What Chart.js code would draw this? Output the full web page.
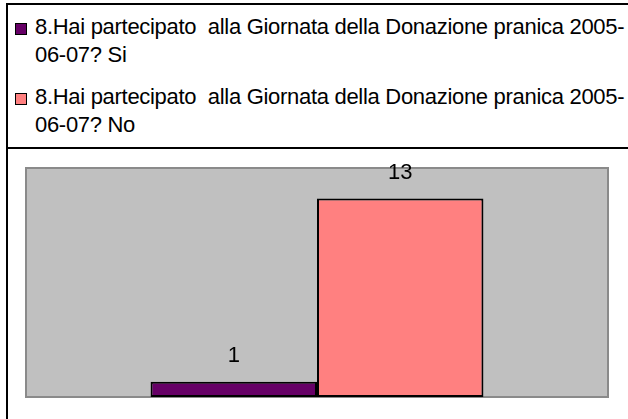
<!DOCTYPE html>
<html>
<head>
<meta charset="utf-8">
<script src="https://cdn.jsdelivr.net/npm/chart.js@4/dist/chart.umd.min.js"></script>
<style>
  html, body { margin: 0; padding: 0; background: #fff; overflow: hidden; }
  body { width: 628px; height: 419px; position: relative; font-family: "Liberation Sans", Arial, sans-serif; }
  .frame {
    position: absolute; left: 6px; top: 3px; width: 700px; height: 500px;
    border-left: 2px solid #000; border-top: 2px solid #000;
  }
  .legend { position: absolute; left: 0; top: 13px; width: 628px; }
  .legend-item { display: flex; align-items: flex-start; margin-bottom: 14px; }
  .legend-item .swatch {
    width: 10px; height: 10px; border: 1px solid #000;
    margin: 10px 8px 0 15px; flex-shrink: 0;
  }
  .legend-item .text {
    font-size: 22px; line-height: 28px; letter-spacing: -0.3px; color: #000;
    white-space: pre-wrap; width: 593px;
  }
  .divider { position: absolute; left: 6px; top: 147px; width: 700px; border-top: 2px solid #000; }
  .chart-box { position: absolute; left: 8px; top: 149px; width: 620px; height: 270px; }
</style>
</head>
<body>
<div class="frame"></div>
<div class="legend" id="legend"></div>
<div class="divider"></div>
<div class="chart-box"><canvas id="chart"></canvas></div>

<script>
// Answers to question 8 (one category, one bar per answer)
const categories = [''];
const seriesLabels = [
  '8.Hai partecipato  alla Giornata della Donazione pranica 2005-06-07? Si',
  '8.Hai partecipato  alla Giornata della Donazione pranica 2005-06-07? No',
];
const siValues = [1];
const noValues = [13];
const seriesColors = ['#660066', '#FF8080'];

// grey plot background with a thin darker frame
const plotBackground = {
  id: 'plotBackground',
  beforeDatasetsDraw(chart) {
    const { ctx, chartArea: a } = chart;
    ctx.save();
    ctx.fillStyle = '#C0C0C0';
    ctx.fillRect(a.left, a.top, a.right - a.left, a.bottom - a.top);
    ctx.strokeStyle = '#8A8A8A';
    ctx.lineWidth = 2;
    ctx.strokeRect(a.left, a.top, a.right - a.left, a.bottom - a.top);
    ctx.restore();
  },
};

// value written above each bar
const valueLabels = {
  id: 'valueLabels',
  afterDatasetsDraw(chart) {
    const { ctx } = chart;
    ctx.save();
    ctx.font = '22px "Liberation Sans", Arial, sans-serif';
    ctx.fillStyle = '#000';
    ctx.textAlign = 'center';
    ctx.textBaseline = 'alphabetic';
    chart.data.datasets.forEach((ds, i) => {
      chart.getDatasetMeta(i).data.forEach((bar, j) => {
        ctx.fillText(String(ds.data[j]), bar.x, bar.y - 20);
      });
    });
    ctx.restore();
  },
};

const chart = new Chart(document.getElementById('chart'), {
  type: 'bar',
  data: {
    labels: categories,
    datasets: [
      { label: seriesLabels[0], data: siValues, backgroundColor: seriesColors[0] },
      { label: seriesLabels[1], data: noValues, backgroundColor: seriesColors[1] },
    ].map(ds => ({ ...ds, borderColor: '#000', borderWidth: 2, borderSkipped: false })),
  },
  options: {
    responsive: true,
    maintainAspectRatio: false,
    animation: false,
    layout: { padding: { left: 18, right: 20, top: 19, bottom: 22 } },
    datasets: { bar: { barPercentage: 1, categoryPercentage: 0.572 } },
    scales: {
      x: { display: false },
      y: { display: false, min: 0, max: 15 },
    },
    plugins: {
      legend: { display: false },
      tooltip: { enabled: false },
    },
  },
  plugins: [plotBackground, valueLabels],
});

// legend above the chart; allow the wrap after the year's hyphen
const legendEl = document.getElementById('legend');
legendEl.innerHTML = chart.data.datasets.map(ds => `
  <div class="legend-item">
    <span class="swatch" style="background:${ds.backgroundColor}"></span>
    <span class="text">${ds.label.replace(/(\d{4}-)(?=\d)/, '$1<wbr>')}</span>
  </div>`).join('');
</script>
</body>
</html>
